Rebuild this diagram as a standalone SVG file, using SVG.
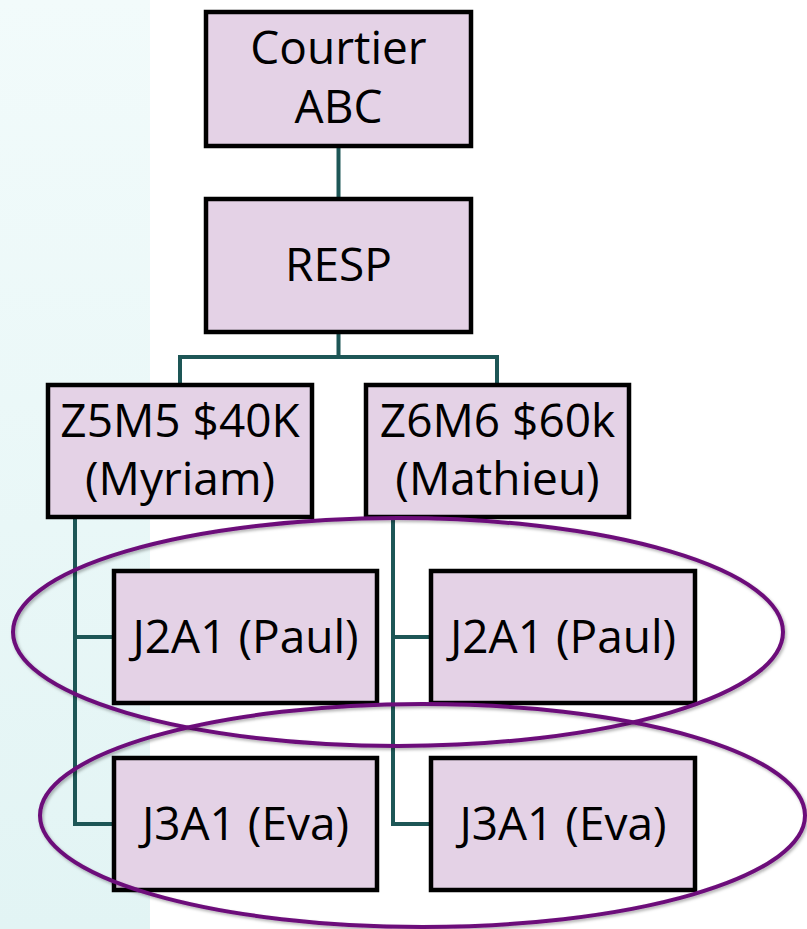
<svg xmlns="http://www.w3.org/2000/svg" width="807" height="929" viewBox="0 0 807 929">
<defs>
<linearGradient id="bg" x1="0" y1="0" x2="0" y2="1">
<stop offset="0" stop-color="#f2fbfb"/>
<stop offset="1" stop-color="#e2f4f4"/>
</linearGradient>
<filter id="sh" x="-10%" y="-10%" width="120%" height="120%">
<feDropShadow dx="1.5" dy="2" stdDeviation="1.5" flood-color="#000" flood-opacity="0.3"/>
</filter>
</defs>
<style>
.box{fill:#e4d2e6;stroke:#000;stroke-width:4.5}
.t{font-family:"Open Sans","Noto Sans",sans-serif;font-size:46px;fill:#000;text-anchor:middle}
.c{fill:none;stroke:#1d5656;stroke-width:4}
.ov{fill:none;stroke:#6c0c7a;stroke-width:4;filter:url(#sh)}
</style>
<rect x="0" y="0" width="150" height="929" fill="url(#bg)"/>
<g id="connectors">
<path class="c" d="M338.5 146V199"/>
<path class="c" d="M338.5 332V357M180 385V357H497V385"/>
<path class="c" d="M75 517V824H114M75 637H114"/>
<path class="c" d="M393 517V824H431M393 637H431"/>
</g>
<g id="courtier"><rect class="box" x="206" y="12" width="265" height="134"/><text class="t" x="338.5" y="64">Courtier</text><text class="t" x="338.5" y="123">ABC</text></g>
<g id="resp"><rect class="box" x="206" y="199" width="265" height="133"/><text class="t" x="338.5" y="281">RESP</text></g>
<g id="z5m5"><rect class="box" x="48" y="385" width="264" height="132"/><text class="t" x="180" y="437">Z5M5 $40K</text><text class="t" x="180" y="495">(Myriam)</text></g>
<g id="z6m6"><rect class="box" x="366" y="385" width="263" height="132"/><text class="t" x="497.5" y="437">Z6M6 $60k</text><text class="t" x="497.5" y="495">(Mathieu)</text></g>
<g id="j2a1-left"><rect class="box" x="114" y="571" width="263" height="132"/><text class="t" x="245.5" y="653">J2A1 (Paul)</text></g>
<g id="j2a1-right"><rect class="box" x="431" y="571" width="264" height="132"/><text class="t" x="563" y="653">J2A1 (Paul)</text></g>
<g id="j3a1-left"><rect class="box" x="114" y="758" width="263" height="132"/><text class="t" x="245.5" y="840">J3A1 (Eva)</text></g>
<g id="j3a1-right"><rect class="box" x="431" y="758" width="264" height="132"/><text class="t" x="563" y="840">J3A1 (Eva)</text></g>
<g id="ellipses">
<ellipse class="ov" cx="398" cy="632" rx="385" ry="114"/>
<ellipse class="ov" cx="422.5" cy="815.5" rx="382.5" ry="111.5"/>
</g>
</svg>
